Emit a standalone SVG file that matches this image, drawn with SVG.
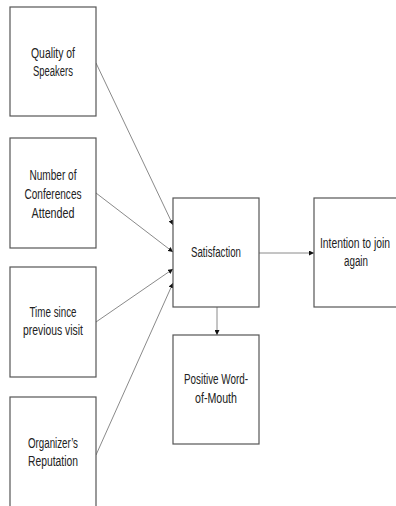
<svg xmlns="http://www.w3.org/2000/svg" width="396" height="506" viewBox="0 0 396 506">
<style>
.box{fill:#fff;stroke:#555;stroke-width:1.2}
.lbl{font-family:"Liberation Sans Narrow","Liberation Sans",Arial,sans-serif;font-size:14px;fill:#222;text-anchor:middle}
.edge{stroke:#8a8a8a;stroke-width:1;fill:none;marker-end:url(#ah)}
</style>
<defs>
<marker id="ah" viewBox="0 0 10 10" refX="10" refY="5" markerWidth="5" markerHeight="5" markerUnits="userSpaceOnUse" orient="auto">
<path d="M0,0 L10,5 L0,10 z" fill="#111"/>
</marker>
</defs>
<rect width="396" height="506" fill="#fff"/>
<g id="connectors">
<line class="edge" x1="96" y1="63" x2="173" y2="225"/>
<line class="edge" x1="96" y1="193" x2="173" y2="252"/>
<line class="edge" x1="96" y1="322" x2="173" y2="269"/>
<line class="edge" x1="96" y1="455" x2="173" y2="283"/>
<line class="edge" x1="259" y1="253" x2="314" y2="253"/>
<line class="edge" x1="217" y1="307" x2="217" y2="335"/>
</g>
<g id="quality">
<rect class="box" x="10" y="7" width="86" height="109"/>
<text class="lbl" x="53" y="58" textLength="44" lengthAdjust="spacingAndGlyphs">Quality of</text>
<text class="lbl" x="53" y="76" textLength="40" lengthAdjust="spacingAndGlyphs">Speakers</text>
</g>
<g id="number">
<rect class="box" x="10" y="138" width="86" height="110"/>
<text class="lbl" x="53" y="180" textLength="47" lengthAdjust="spacingAndGlyphs">Number of</text>
<text class="lbl" x="53" y="199" textLength="57" lengthAdjust="spacingAndGlyphs">Conferences</text>
<text class="lbl" x="53" y="218" textLength="43" lengthAdjust="spacingAndGlyphs">Attended</text>
</g>
<g id="time">
<rect class="box" x="10" y="267" width="86" height="110"/>
<text class="lbl" x="53" y="317" textLength="47" lengthAdjust="spacingAndGlyphs">Time since</text>
<text class="lbl" x="53" y="335" textLength="60" lengthAdjust="spacingAndGlyphs">previous visit</text>
</g>
<g id="organizer">
<rect class="box" x="10" y="397" width="86" height="115"/>
<text class="lbl" x="53" y="448" textLength="50" lengthAdjust="spacingAndGlyphs">Organizer’s</text>
<text class="lbl" x="53" y="466" textLength="50" lengthAdjust="spacingAndGlyphs">Reputation</text>
</g>
<g id="satisfaction">
<rect class="box" x="173" y="198" width="86" height="109"/>
<text class="lbl" x="216" y="257" textLength="50" lengthAdjust="spacingAndGlyphs">Satisfaction</text>
</g>
<g id="intention">
<rect class="box" x="314" y="198" width="90" height="109"/>
<text class="lbl" transform="translate(355,248) scale(0.74,1)" x="0" y="0">Intention to join</text>
<text class="lbl" x="356" y="266" textLength="24" lengthAdjust="spacingAndGlyphs">again</text>
</g>
<g id="positive">
<rect class="box" x="173" y="335" width="86" height="109"/>
<text class="lbl" x="216" y="384" textLength="64" lengthAdjust="spacingAndGlyphs">Positive Word-</text>
<text class="lbl" x="216" y="403" textLength="42" lengthAdjust="spacingAndGlyphs">of-Mouth</text>
</g>
</svg>
